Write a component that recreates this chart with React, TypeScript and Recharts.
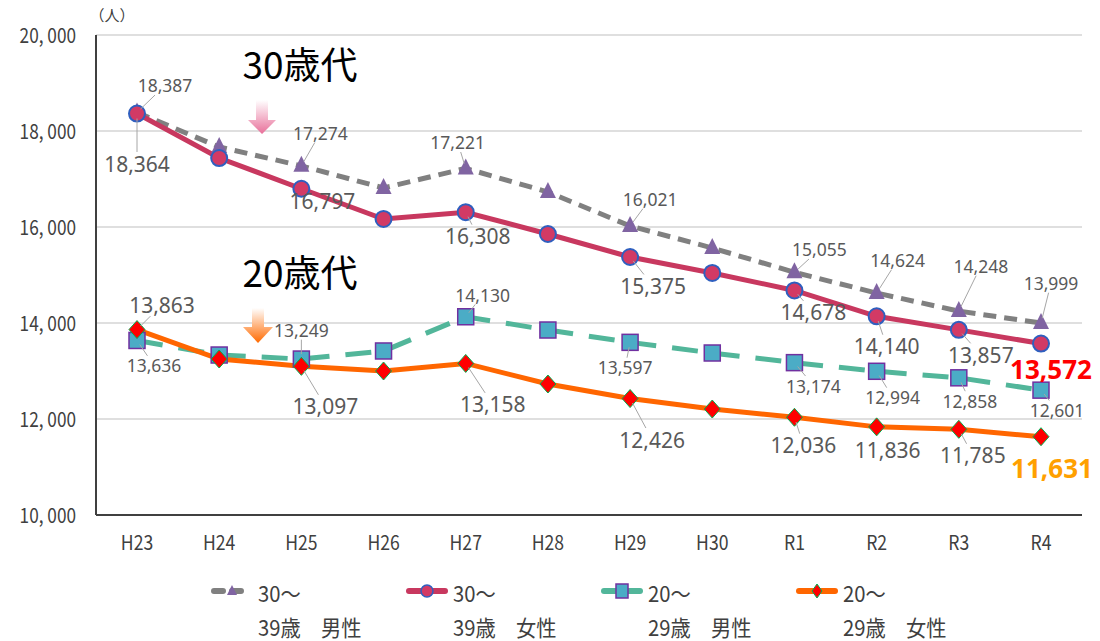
import React from "react";
import {
  LineChart,
  Line,
  XAxis,
  YAxis,
  CartesianGrid,
  LabelList,
} from "recharts";

// 年度
const years = ["H23", "H24", "H25", "H26", "H27", "H28", "H29", "H30", "R1", "R2", "R3", "R4"];

// 人口（人）
const male30 = [18387, 17667, 17274, 16813, 17221, 16729, 16021, 15563, 15055, 14624, 14248, 13999];
const female30 = [18364, 17437, 16797, 16167, 16308, 15854, 15375, 15042, 14678, 14140, 13857, 13572];
const male20 = [13636, 13333, 13249, 13417, 14130, 13854, 13597, 13375, 13174, 12994, 12858, 12601];
const female20 = [13863, 13250, 13097, 13000, 13158, 12729, 12426, 12208, 12036, 11836, 11785, 11631];

const yTicks = [10000, 12000, 14000, 16000, 18000, 20000];
const labeledIdx = [0, 2, 4, 6, 8, 9, 10, 11];

const seriesNames = ["30～\n39歳　男性", "30～\n39歳　女性", "20～\n29歳　男性", "20～\n29歳　女性"];

// ラベル位置 (dx, dy)
const male30Off = [[28, -27], [0, 0], [19, -33], [0, 0], [-8, -26], [0, 0], [20, -27], [0, 0], [25, -23], [21, -33], [22, -45], [10, -40]];
const female30Off = [[0, 50], [0, 0], [21, 12], [0, 0], [12, 24], [0, 0], [23, 29], [0, 0], [19, 22], [10, 30], [22, 25], [10, 25]];
const male20Off = [[17, 25], [0, 0], [0, -29], [0, 0], [17, -22], [0, 0], [-5, 25], [0, 0], [19, 23], [16, 26], [11, 23], [16, 20]];
const female20Off = [[25, -25], [0, 0], [24, 40], [0, 0], [27, 41], [0, 0], [22, 41], [0, 0], [9, 28], [11, 23], [14, 26], [11, 31]];

const data = years.map((y, i) => ({
  year: y,
  m30: male30[i],
  f30: female30[i],
  m20: male20[i],
  f20: female20[i],
}));

const labelFont = "'Noto Sans', 'Roboto', sans-serif";
const cjkFont = "'Noto Sans CJK JP', sans-serif";

const fmt = (v: number) => v.toLocaleString("en-US");

function makeLabel(offs: number[][], size: number, last?: { color: string; size: number }) {
  return (props: any) => {
    const { x, y, index, value } = props;
    if (!labeledIdx.includes(index)) return null;
    const [dx, dy] = offs[index];
    const isLast = index === years.length - 1 && last;
    const fs = isLast ? last!.size : size;
    const cx = x + dx;
    const cy = y + dy;
    const hw = fs * 1.6;
    const hh = fs * 0.55;
    let leader = null;
    const dist = Math.sqrt(dx * dx + dy * dy);
    if (dist > 0 && !isLast) {
      const t = Math.min(dx !== 0 ? hw / Math.abs(dx) : 99, dy !== 0 ? hh / Math.abs(dy) : 99);
      if (t < 1) {
        const ex = cx - dx * t;
        const ey = cy - dy * t;
        const sx = x + (dx / dist) * 5;
        const sy = y + (dy / dist) * 5;
        const len = Math.hypot(ex - sx, ey - sy);
        if (len > 8) {
          leader = <line x1={sx} y1={sy} x2={ex} y2={ey} stroke="#A6A6A6" strokeWidth={1} />;
        }
      }
    }
    return (
      <g key={`lbl-${index}`}>
        {leader}
        <text
          x={cx}
          y={cy}
          textAnchor="middle"
          dominantBaseline="central"
          fontFamily={labelFont}
          fontSize={fs}
          fontWeight={isLast ? 700 : 400}
          fill={isLast ? last!.color : "#595959"}
        >
          {fmt(value)}
        </text>
      </g>
    );
  };
}

// 縦長フォント風の目盛
const XTick = (props: any) => {
  const { x, y, payload } = props;
  return (
    <g transform={`translate(${x},${y}) scale(0.88,1)`}>
      <text x={0} y={0} dy="0.75em" textAnchor="middle" fontSize={20} fill="#404040" fontFamily={cjkFont}>
        {payload.value}
      </text>
    </g>
  );
};

const YTick = (props: any) => {
  const { x, y, payload } = props;
  return (
    <g transform={`translate(${x},${y}) scale(0.82,1)`}>
      <text x={0} y={0} dy="0.36em" textAnchor="end" fontSize={21} fill="#404040" fontFamily={cjkFont}>
        {fmt(payload.value).replace(",", ", ")}
      </text>
    </g>
  );
};

const Triangle = (props: any) => {
  const { cx, cy, index } = props;
  if (cx == null || cy == null) return <g key={`t-${index}`} />;
  return (
    <polygon
      key={`t-${index}`}
      points={`${cx},${cy - 10} ${cx - 8},${cy + 6} ${cx + 8},${cy + 6}`}
      fill="#8064A2"
    />
  );
};

const Circle = (props: any) => {
  const { cx, cy, index } = props;
  if (cx == null || cy == null) return <g key={`c-${index}`} />;
  return <circle key={`c-${index}`} cx={cx} cy={cy} r={8} fill="#D23A65" stroke="#2F5FBF" strokeWidth={2} />;
};

const Square = (props: any) => {
  const { cx, cy, index } = props;
  if (cx == null || cy == null) return <g key={`s-${index}`} />;
  return (
    <rect key={`s-${index}`} x={cx - 8} y={cy - 8} width={16} height={16} fill="#4BACC6" stroke="#7030A0" strokeWidth={1.5} />
  );
};

const Diamond = (props: any) => {
  const { cx, cy, index } = props;
  if (cx == null || cy == null) return <g key={`d-${index}`} />;
  return (
    <polygon
      key={`d-${index}`}
      points={`${cx},${cy - 9} ${cx + 8},${cy} ${cx},${cy + 9} ${cx - 8},${cy}`}
      fill="#FF0000"
      stroke="#00B050"
      strokeWidth={1}
    />
  );
};

const legendItems = [
  { color: "#808080", dash: true, marker: "tri" },
  { color: "#C8385F", dash: false, marker: "circle" },
  { color: "#52B69A", dash: false, marker: "square" },
  { color: "#FF6600", dash: false, marker: "diamond" },
];

function LegendIcon({ item }: { item: (typeof legendItems)[number] }) {
  const cx = 21;
  const cy = 10;
  let m = null;
  if (item.marker === "tri") m = <polygon points={`${cx},${cy - 6} ${cx - 5},${cy + 4} ${cx + 5},${cy + 4}`} fill="#8064A2" />;
  if (item.marker === "circle") m = <circle cx={cx} cy={cy} r={6} fill="#D23A65" stroke="#2F5FBF" strokeWidth={1.5} />;
  if (item.marker === "square") m = <rect x={cx - 6} y={cy - 7} width={12} height={14} fill="#4BACC6" stroke="#7030A0" strokeWidth={1.5} />;
  if (item.marker === "diamond") m = <polygon points={`${cx},${cy - 7} ${cx + 5},${cy} ${cx},${cy + 7} ${cx - 5},${cy}`} fill="#FF0000" stroke="#00B050" strokeWidth={1} />;
  return (
    <svg width={42} height={20} style={{ display: "block" }}>
      <line x1={3} y1={cy} x2={39} y2={cy} stroke={item.color} strokeWidth={6} strokeLinecap="round" strokeDasharray={item.dash ? "9 9" : undefined} />
      {m}
    </svg>
  );
}

export default function App() {
  return (
    <div style={{ position: "relative", width: 1100, height: 641, background: "#fff", fontFamily: cjkFont }}>
      <style>{`body{margin:0}`}</style>
      <LineChart
        width={1100}
        height={641}
        data={data}
        margin={{ top: 35, right: 18, bottom: 96, left: 0 }}
      >
        <CartesianGrid vertical={false} stroke="#BFBFBF" strokeWidth={1} />
        <XAxis
          dataKey="year"
          padding={{ left: 41, right: 41 }}
          tickLine={false}
          tickSize={0}
          tickMargin={20}
          height={30}
          axisLine={{ stroke: "#404040", strokeWidth: 2 }}
          tick={XTick}
          interval={0}
        />
        <YAxis
          width={96}
          domain={[10000, 20000]}
          ticks={yTicks}
          tickLine={false}
          tickSize={0}
          tickMargin={20}
          axisLine={{ stroke: "#404040", strokeWidth: 2 }}
          tick={YTick}
        />
        <Line
          dataKey="m30"
          name={seriesNames[0]}
          stroke="#808080"
          strokeWidth={5}
          strokeDasharray="13 8"
          dot={Triangle}
          activeDot={false}
          isAnimationActive={false}
        >
          <LabelList dataKey="m30" content={makeLabel(male30Off, 17.5)} />
        </Line>
        <Line
          dataKey="f30"
          name={seriesNames[1]}
          stroke="#C8385F"
          strokeWidth={5}
          dot={Circle}
          activeDot={false}
          isAnimationActive={false}
        >
          <LabelList dataKey="f30" content={makeLabel(female30Off, 21, { color: "#FF0000", size: 26 })} />
        </Line>
        <Line
          dataKey="m20"
          name={seriesNames[2]}
          stroke="#52B69A"
          strokeWidth={5}
          strokeDasharray="26 16"
          dot={Square}
          activeDot={false}
          isAnimationActive={false}
        >
          <LabelList dataKey="m20" content={makeLabel(male20Off, 17.5)} />
        </Line>
        <Line
          dataKey="f20"
          name={seriesNames[3]}
          stroke="#FF6600"
          strokeWidth={5}
          dot={Diamond}
          activeDot={false}
          isAnimationActive={false}
        >
          <LabelList dataKey="f20" content={makeLabel(female20Off, 21, { color: "#FFA000", size: 26 })} />
        </Line>
      </LineChart>

      {/* 注記 */}
      <svg width={1100} height={641} style={{ position: "absolute", left: 0, top: 0, pointerEvents: "none" }}>
        <defs>
          <linearGradient id="pinkArrow" x1="0" y1="0" x2="0" y2="1">
            <stop offset="0" stopColor="#FFFFFF" />
            <stop offset="1" stopColor="#E8709A" />
          </linearGradient>
          <linearGradient id="orangeArrow" x1="0" y1="0" x2="0" y2="1">
            <stop offset="0" stopColor="#FFFFFF" />
            <stop offset="1" stopColor="#FF6A00" />
          </linearGradient>
        </defs>
        <text x={112} y={21} textAnchor="middle" fontSize={15} fill="#404040" fontFamily={cjkFont}>（人）</text>
        <text x={300} y={79} textAnchor="middle" fontSize={37} fill="#000" fontFamily={cjkFont}>30歳代</text>
        <text x={300} y={287} textAnchor="middle" fontSize={37} fill="#000" fontFamily={cjkFont}>20歳代</text>
        <polygon points="256,100 268,100 268,120 276,120 262,134 248,120 256,120" fill="url(#pinkArrow)" />
        <polygon points="252,308 264,308 264,327 273,327 258,343 243,327 252,327" fill="url(#orangeArrow)" />
      </svg>

      {/* 凡例 */}
      <div style={{ position: "absolute", left: 211, top: 575, display: "flex" }}>
        {legendItems.map((it, i) => {
          const [l1, l2] = seriesNames[i].split("\n");
          return (
            <div key={i} style={{ width: 195, display: "flex", alignItems: "flex-start" }}>
              <div style={{ paddingTop: 6 }}>
                <LegendIcon item={it} />
              </div>
              <div style={{ marginLeft: 5, fontSize: 22, lineHeight: "34px", color: "#404040", whiteSpace: "pre", transform: "scaleX(0.92)", transformOrigin: "left" }}>
                <div>{l1}</div>
                <div>{l2}</div>
              </div>
            </div>
          );
        })}
      </div>
    </div>
  );
}
